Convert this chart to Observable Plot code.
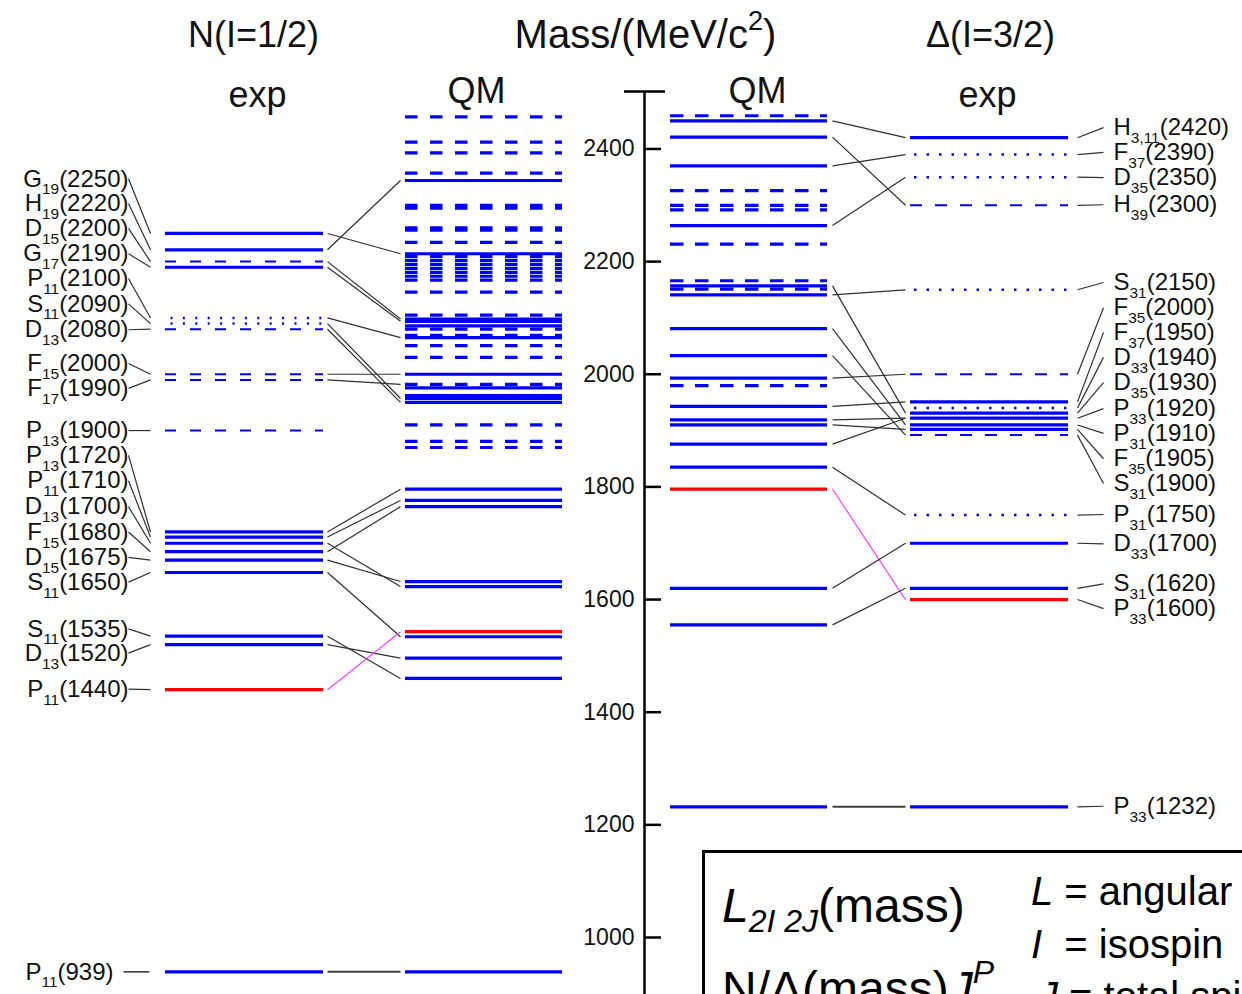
<!DOCTYPE html>
<html>
<head>
<meta charset="utf-8">
<script src="https://cdn.jsdelivr.net/npm/d3@7"></script>
<script src="https://cdn.jsdelivr.net/npm/@observablehq/plot@0.6"></script>
<style>
  html, body { margin: 0; padding: 0; background: #fff; }
  body { width: 1242px; height: 994px; overflow: hidden; position: relative; font-family: "Liberation Sans", Arial, sans-serif; }
  #legend { position: absolute; left: 702px; top: 850px; width: 640px; height: 260px; border: 3px solid #000; box-sizing: border-box; background: #fff; }
  #legend .t { position: absolute; white-space: nowrap; color: #000; line-height: 1; }
</style>
</head>
<body>
<div id="chart"></div>
<div id="legend">
  <div class="t" style="left:17px; top:29px; font-size:48px;"><i>L</i><sub style="font-size:32px; vertical-align:-10px;"><i>2I 2J</i></sub>(mass)</div>
  <div class="t" style="left:17px; top:103px; font-size:48px;">N/Δ(mass)<i>J</i><sup style="font-size:32px; vertical-align:22px;"><i>P</i></sup></div>
  <div class="t" style="left:326px; top:18px; font-size:40px;"><i>L</i> = angular momentum</div>
  <div class="t" style="left:326px; top:71px; font-size:40px;"><i>I</i>&nbsp; = isospin</div>
  <div class="t" style="left:333px; top:123px; font-size:40px;"><i>J</i> = total spin</div>
</div>
<script>
// ================= DATA =================
// Nucleon (I=1/2) experimental states
const nExpNames = ["G_{19}(2250)", "H_{19}(2220)", "D_{15}(2200)", "G_{17}(2190)", "P_{11}(2100)", "S_{11}(2090)", "D_{13}(2080)",
  "F_{15}(2000)", "F_{17}(1990)", "P_{13}(1900)", "P_{13}(1720)", "P_{11}(1710)", "D_{13}(1700)", "F_{15}(1680)", "D_{15}(1675)",
  "S_{11}(1650)", "S_{11}(1535)", "D_{13}(1520)", "P_{11}(1440)", "P_{11}(939)"];
const nExpMass = [2250, 2221, 2200, 2190, 2100, 2090, 2080, 2000, 1990, 1900, 1720, 1711, 1700, 1685, 1670, 1648, 1535, 1520, 1440, 939];
const nExpStatus = ["solid", "solid", "dashed", "solid", "dotted", "dotted", "dashed", "dashed", "dashed", "dashed",
  "solid", "solid", "solid", "solid", "solid", "solid", "solid", "solid", "red", "solid"];

// Nucleon quark-model states
const nQMMass = [2457, 2412, 2393, 2357, 2344, 2300, 2295, 2260, 2256, 2234, 2214, 2209, 2202, 2195, 2188, 2181, 2174, 2167,
  2146, 2105, 2098, 2094, 2086, 2080, 2069, 2065, 2051, 2030, 2000, 1982, 1976, 1962, 1957, 1950, 1910, 1881, 1870,
  1796, 1776, 1765, 1632, 1623, 1543, 1534, 1496, 1460, 939];
const nQMStatus = ["dashed", "dashed", "dashed", "dashed", "solid", "dashed", "dashed", "dashed", "dashed", "dashed", "solid", "dashed",
  "dashed", "dashed", "dashed", "dashed", "dashed", "dashed", "dashed", "dashed", "solid", "solid", "solid", "dashed", "dashed", "solid",
  "dashed", "dashed", "solid", "dashed", "solid", "solid", "solid", "solid", "dashed", "dashed", "dashed",
  "solid", "solid", "solid", "solid", "solid", "red", "solid", "solid", "solid", "solid"];

// Nucleon assignments: experimental mass -> quark-model mass
const nLinkExp = [2250, 2221, 2200, 2190, 2100, 2090, 2080, 2000, 1990, 1720, 1711, 1700, 1685, 1670, 1648, 1535, 1520, 1440, 939];
const nLinkQM  = [2214, 2344, 2098, 2094, 2065, 1957, 1950, 2000, 1982, 1796, 1776, 1623, 1765, 1632, 1534, 1460, 1496, 1543, 939];

// Delta quark-model states
const dQMMass = [2459, 2450, 2421, 2370, 2326, 2300, 2292, 2264, 2231, 2166, 2157, 2151, 2141, 2081, 2033, 1993, 1980,
  1943, 1919, 1910, 1876, 1835, 1796, 1620, 1555, 1232];
const dQMStatus = ["dashed", "solid", "solid", "solid", "dashed", "dashed", "dashed", "solid", "dashed", "dashed", "solid", "dashed", "solid",
  "solid", "solid", "solid", "dashed", "solid", "solid", "solid", "solid", "solid", "red", "solid", "solid", "solid"];

// Delta (I=3/2) experimental states
const dExpNames = ["H_{3,11}(2420)", "F_{37}(2390)", "D_{35}(2350)", "H_{39}(2300)", "S_{31}(2150)", "F_{35}(2000)", "F_{37}(1950)",
  "D_{33}(1940)", "D_{35}(1930)", "P_{33}(1920)", "P_{31}(1910)", "F_{35}(1905)", "S_{31}(1900)", "P_{31}(1750)", "D_{33}(1700)",
  "S_{31}(1620)", "P_{33}(1600)", "P_{33}(1232)"];
const dExpMass = [2420, 2390, 2350, 2300, 2150, 2000, 1951, 1940, 1931, 1922, 1910, 1902, 1892, 1750, 1700, 1620, 1600, 1232];
const dExpStatus = ["solid", "dotted", "dotted", "dashed", "dotted", "dashed", "solid", "dotted", "solid", "solid", "solid", "solid",
  "dashed", "dotted", "solid", "solid", "red", "solid"];

// Delta assignments: quark-model mass -> experimental mass
const dLinkQM  = [2450, 2421, 2370, 2264, 2157, 2141, 2081, 2033, 1993, 1943, 1919, 1910, 1876, 1835, 1796, 1620, 1555, 1232];
const dLinkExp = [2420, 2300, 2390, 2350, 1931, 2150, 1910, 1892, 2000, 1951, 1922, 1902, 1922, 1750, 1600, 1700, 1620, 1232];

const massTicks = [1000, 1200, 1400, 1600, 1800, 2000, 2200, 2400];
const titles = ["N(I=1/2)", "Mass/(MeV/c^{2})", "Δ(I=3/2)"];
const subTitles = ["exp", "QM", "QM", "exp"];

// ================= LAYOUT (label slots, mass units) =================
const nLabelAt = [2347, 2303, 2259, 2214, 2170, 2125, 2079, 2019, 1975, 1900, 1856, 1811, 1765, 1720, 1675, 1631, 1548, 1505, 1441, 939];
const dLabelAt = [2438, 2394, 2349, 2301, 2163, 2118, 2074, 2030, 1985, 1939, 1895, 1850, 1806, 1751, 1699, 1628, 1584, 1233];

const COL = {nExp: [165, 323], nQM: [405, 562], dQM: [670, 827], dExp: [910, 1068]};
const titleX = [253, 645, 990];
const titleSize = [36, 40, 36];
const subTitleX = [257, 476, 757, 987];
const axisX = 644, axisTop = 2502;

// ================= BUILD =================
const BLUE = "#0000ff", RED = "#ff0000";
const levels = [
  ...nExpMass.map((m, i) => ({col: "nExp", m, st: nExpStatus[i]})),
  ...nQMMass.map((m, i) => ({col: "nQM", m, st: nQMStatus[i]})),
  ...dQMMass.map((m, i) => ({col: "dQM", m, st: dQMStatus[i]})),
  ...dExpMass.map((m, i) => ({col: "dExp", m, st: dExpStatus[i]}))
];
const nExpRed = new Set(nExpMass.filter((m, i) => nExpStatus[i] === "red"));
const dQMRed = new Set(dQMMass.filter((m, i) => dQMStatus[i] === "red"));
const nLinks = nLinkExp.map((e, i) => ({a: e, b: nLinkQM[i], kind: nExpRed.has(e) ? "pink" : (e === nLinkQM[i] && e < 1000 ? "ground" : "link")}));
const dLinks = dLinkQM.map((q, i) => ({a: q, b: dLinkExp[i], kind: dQMRed.has(q) ? "pink" : (q === dLinkExp[i] && q < 1300 ? "ground" : "link")}));
const nLabels = nExpNames.map((name, i) => ({name, m: nExpMass[i], at: nLabelAt[i]}));
const dLabels = dExpNames.map((name, i) => ({name, m: dExpMass[i], at: dLabelAt[i]}));

const x1 = d => COL[d.col][0], x2 = d => COL[d.col][1];
const sel = (col, st) => levels.filter(d => d.col === col && d.st === st);
const linkColor = d => d.kind === "pink" ? "#ff44ff" : (d.kind === "ground" ? "#404040" : "#303030");
const linkWidth = d => d.kind === "ground" ? 2 : 1.2;

const chart = Plot.plot({
  width: 1242, height: 994, margin: 0,
  x: {domain: [0, 1242], axis: null},
  y: {domain: [898.8, 2663.6], axis: null},
  color: {type: "identity"},
  style: {fontFamily: "'Liberation Sans', Arial, sans-serif", background: "transparent", color: "#000"},
  marks: [
    // axis
    Plot.ruleX([axisX], {y1: axisTop, y2: 898.8, stroke: "#000", strokeWidth: 2.5}),
    Plot.ruleY([axisTop], {x1: axisX - 20, x2: axisX + 21, stroke: "#000", strokeWidth: 2.5}),
    Plot.ruleY(massTicks, {x1: axisX, x2: axisX + 17, stroke: "#000", strokeWidth: 2.5}),
    Plot.text(massTicks, {x: axisX - 10, y: d => d, text: d => String(d), textAnchor: "end", fontSize: 23, fill: "#111"}),
    // solid & red levels
    Plot.ruleY(levels.filter(d => d.st === "solid" || d.st === "red"), {y: "m", x1, x2, stroke: d => d.st === "red" ? RED : BLUE, strokeWidth: 3.2}),
    // dashed levels
    Plot.ruleY(sel("nExp", "dashed"), {y: "m", x1, x2, stroke: BLUE, strokeWidth: 2, strokeDasharray: "11,14"}),
    Plot.ruleY(sel("nQM", "dashed"), {y: "m", x1, x2, stroke: BLUE, strokeWidth: 3.2, strokeDasharray: "12.5,12.5"}),
    Plot.ruleY(sel("dQM", "dashed"), {y: "m", x1, x2, stroke: BLUE, strokeWidth: 3.2, strokeDasharray: "13.5,11.5"}),
    Plot.ruleY(sel("dExp", "dashed"), {y: "m", x1, x2, stroke: BLUE, strokeWidth: 2, strokeDasharray: "12,13"}),
    // dotted levels
    Plot.ruleY(sel("nExp", "dotted"), {y: "m", x1, x2, stroke: BLUE, strokeWidth: 2.5, strokeDasharray: "2,10.4", strokeDashoffset: -5.5}),
    Plot.ruleY(sel("dExp", "dotted"), {y: "m", x1, x2, stroke: BLUE, strokeWidth: 2.5, strokeDasharray: "2.5,10", strokeDashoffset: -4}),
    // assignment links
    Plot.link(nLinks, {x1: 327, x2: 400, y1: "a", y2: "b", stroke: linkColor, strokeWidth: linkWidth}),
    Plot.link(dLinks, {x1: 832, x2: 905, y1: "a", y2: "b", stroke: linkColor, strokeWidth: linkWidth}),
    // label leader lines
    Plot.link(nLabels.filter(d => d.m >= 1000), {x1: 128, x2: 150, y1: "at", y2: "m", stroke: "#303030", strokeWidth: 1.2}),
    Plot.link(nLabels.filter(d => d.m < 1000), {x1: 123, x2: 149, y1: "at", y2: "m", stroke: "#303030", strokeWidth: 1.5}),
    Plot.link(dLabels, {x1: 1077, x2: 1103, y1: "m", y2: "at", stroke: "#303030", strokeWidth: 1.2}),
    // labels
    Plot.text(nLabels.filter(d => d.m >= 1000), {x: 128, y: "at", text: "name", textAnchor: "end", fontSize: 24, fill: "#111"}),
    Plot.text(nLabels.filter(d => d.m < 1000), {x: 113, y: "at", text: "name", textAnchor: "end", fontSize: 24, fill: "#111"}),
    Plot.text(dLabels, {x: 1113, y: "at", text: "name", textAnchor: "start", fontSize: 24, fill: "#111"}),
    // titles
    Plot.text(titles, {x: (d, i) => titleX[i], frameAnchor: "top", lineAnchor: "middle", dy: 35, fontSize: (d, i) => titleSize[i], fill: "#111"}),
    Plot.text(subTitles, {x: (d, i) => subTitleX[i], frameAnchor: "top", lineAnchor: "middle", fontSize: 36, fill: "#111", filter: d => d === "exp", dy: 95}),
    Plot.text(subTitles, {x: (d, i) => subTitleX[i], frameAnchor: "top", lineAnchor: "middle", fontSize: 36, fill: "#111", filter: d => d === "QM", dy: 91})
  ]
});
document.getElementById("chart").appendChild(chart);

// rich text: turn _{..} and ^{..} into sub/superscript tspans
const NS = "http://www.w3.org/2000/svg";
chart.querySelectorAll("text").forEach(el => {
  const s = el.textContent;
  if (!/[_^]\{/.test(s)) return;
  const fs = parseFloat(getComputedStyle(el).fontSize) || 24;
  const isTitle = fs > 30;
  el.textContent = "";
  const re = /([_^])\{([^}]*)\}/g;
  let last = 0, m, cur = 0;
  const add = (str, shift, small) => {
    const t = document.createElementNS(NS, "tspan");
    t.textContent = str;
    const dy = shift - cur;
    if (dy) t.setAttribute("dy", dy.toFixed(1));
    cur = shift;
    if (small) t.setAttribute("font-size", (fs * (isTitle ? 0.68 : 0.64)).toFixed(1));
    el.appendChild(t);
  };
  while ((m = re.exec(s))) {
    if (m.index > last) add(s.slice(last, m.index), 0, false);
    add(m[2], m[1] === "_" ? fs * 0.33 : -fs * 0.45, true);
    last = re.lastIndex;
  }
  if (last < s.length) add(s.slice(last), 0, false);
});
</script>
</body>
</html>
